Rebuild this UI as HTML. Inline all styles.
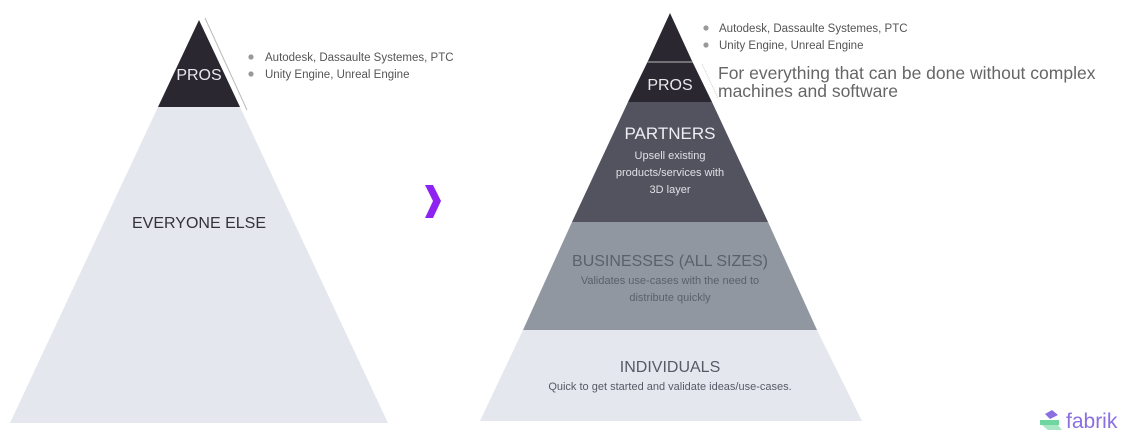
<!DOCTYPE html>
<html><head><meta charset="utf-8"><style>
html,body{margin:0;padding:0;background:#fff;}
svg{display:block;font-family:"Liberation Sans",sans-serif;}
</style></head><body>
<svg width="1140" height="438" viewBox="0 0 1140 438" xmlns="http://www.w3.org/2000/svg">
<!-- left pyramid -->
<polygon points="158,107 240,107 388,423 10,423" fill="#e4e7ed"/>
<polygon points="199,20 240,107 158,107" fill="#2a2730"/>
<line x1="205" y1="18" x2="247" y2="110" stroke="#bbb" stroke-width="1"/>
<text x="199" y="80" text-anchor="middle" font-size="16" fill="#e8e8ec">PROS</text>
<text x="199" y="228" text-anchor="middle" font-size="16" fill="#33333a">EVERYONE ELSE</text>
<circle cx="251" cy="57" r="2.6" fill="#999"/>
<circle cx="251" cy="74" r="2.6" fill="#999"/>
<text x="265" y="61" font-size="11.5" fill="#555">Autodesk, Dassaulte Systemes, PTC</text>
<text x="265" y="78" font-size="11.5" fill="#555">Unity Engine, Unreal Engine</text>
<!-- chevron -->
<polygon points="425,185 433,185 441,201 433,218 425,218 433,201" fill="#8e22f0"/>
<!-- right pyramid -->
<polygon points="670,13 692.5,62 647.5,62" fill="#2a2730"/>
<polygon points="647.5,62 692.5,62 712,102 628,102" fill="#2a2730"/>
<line x1="647" y1="62" x2="693" y2="62" stroke="#bbb" stroke-width="1"/>
<polygon points="628,102 712,102 768,222 572,222" fill="#53525f"/>
<polygon points="572,222 768,222 817,330 523,330" fill="#9097a0"/>
<polygon points="523,330 817,330 862,421 480,421" fill="#e4e7ed"/>
<line x1="702" y1="64" x2="718" y2="98" stroke="#ccc" stroke-width="1" stroke-dasharray="1,1"/>
<text x="670" y="90" text-anchor="middle" font-size="16" fill="#e8e8ec">PROS</text>
<text x="670" y="139" text-anchor="middle" font-size="17" fill="#eeeef2">PARTNERS</text>
<text x="670" y="159" text-anchor="middle" font-size="11" fill="#e0e0e6">Upsell existing</text>
<text x="670" y="176" text-anchor="middle" font-size="11" fill="#e0e0e6">products/services with</text>
<text x="670" y="193" text-anchor="middle" font-size="11" fill="#e0e0e6">3D layer</text>
<text x="670" y="266" text-anchor="middle" font-size="16" fill="#5a616c">BUSINESSES (ALL SIZES)</text>
<text x="670" y="284" text-anchor="middle" font-size="11" fill="#5a616c">Validates use-cases with the need to</text>
<text x="670" y="301" text-anchor="middle" font-size="11" fill="#5a616c">distribute quickly</text>
<text x="670" y="372" text-anchor="middle" font-size="16" fill="#555a66">INDIVIDUALS</text>
<text x="670" y="390" text-anchor="middle" font-size="11" fill="#555a66">Quick to get started and validate ideas/use-cases.</text>
<circle cx="706" cy="28" r="2.6" fill="#999"/>
<circle cx="706" cy="45" r="2.6" fill="#999"/>
<text x="719" y="32" font-size="11.5" fill="#555">Autodesk, Dassaulte Systemes, PTC</text>
<text x="719" y="49" font-size="11.5" fill="#555">Unity Engine, Unreal Engine</text>
<text x="718" y="79" font-size="17.5" fill="#666">For everything that can be done without complex</text>
<text x="718" y="97" font-size="17.5" fill="#666">machines and software</text>
<!-- logo -->
<polygon points="1045,414 1052,410 1058,415 1050,419" fill="#8b6fe0"/>
<polygon points="1040,420 1059,420 1059,425 1040,425" fill="#6fd6a0"/>
<polygon points="1042,425 1058,425 1062,430 1048,430" fill="#a8e6c4"/>
<text x="1066" y="428" font-size="21" fill="#8b6fe0">fabrik</text>
</svg>
</body></html>
